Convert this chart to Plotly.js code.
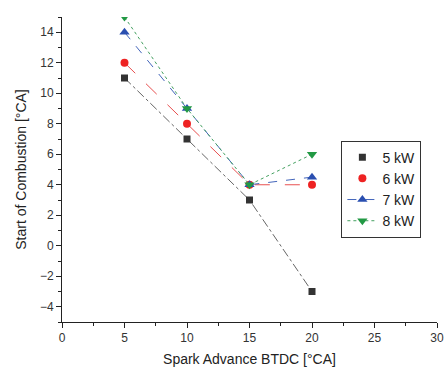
<!DOCTYPE html>
<html><head><meta charset="utf-8">
<script src="https://cdn.plot.ly/plotly-3.0.1.min.js"></script>
<style>html,body{margin:0;padding:0;background:#fff}#c{width:446px;height:371px}</style>
</head><body><div id="c"></div>
<script>
const sparkAdvance = [5, 10, 15, 20];
const kw5 = [11, 7, 3, -3];
const kw6 = [12, 8, 4, 4];
const kw7 = [14, 9, 4, 4.5];
const kw8 = [15, 9, 4, 6];
const seriesNames = ['5 kW', '6 kW', '7 kW', '8 kW'];

const traces = [
  {x: sparkAdvance, y: kw5, mode: 'lines', showlegend: false, hoverinfo: 'skip',
   line: {color: '#666666', width: 1, dash: 'dashdot'}},
  {x: sparkAdvance, y: kw6, mode: 'lines', showlegend: false, hoverinfo: 'skip',
   line: {color: '#e85050', width: 1, dash: 'longdash'}},
  {x: sparkAdvance, y: kw5, name: seriesNames[0], mode: 'markers',
   marker: {symbol: 'square', size: 7, color: '#333333'}},
  {x: sparkAdvance, y: kw6, name: seriesNames[1], mode: 'markers',
   marker: {symbol: 'circle', size: 8, color: '#ee2222'}},
  {x: sparkAdvance, y: kw7, name: seriesNames[2], mode: 'lines+markers',
   line: {color: '#4466bb', width: 1, dash: 'dash'},
   marker: {symbol: 'triangle-up', size: 9, color: '#2a4fb0'}},
  {x: sparkAdvance, y: kw8, name: seriesNames[3], mode: 'lines+markers',
   line: {color: '#44a060', width: 1, dash: 'dot'},
   marker: {symbol: 'triangle-down', size: 9, color: '#229944'}}
];

const layout = {
  width: 446, height: 371,
  margin: {l: 62, r: 9, t: 17, b: 49},
  paper_bgcolor: '#fff', plot_bgcolor: '#fff',
  font: {family: 'Liberation Sans, Arial, sans-serif', color: '#222'},
  showlegend: true,
  legend: {x: 0.745, y: 0.595, xanchor: 'left', yanchor: 'top',
    bordercolor: '#333', borderwidth: 1, bgcolor: '#fff',
    font: {size: 14, color: '#222'}, tracegroupgap: 0},
  xaxis: {range: [0, 30], tickvals: [0, 5, 10, 15, 20, 25, 30],
    showgrid: false, zeroline: false, showline: true, linecolor: '#222', linewidth: 1,
    ticks: 'outside', ticklen: 5, tickcolor: '#222', ticklabeloverflow: 'allow',
    minor: {dtick: 2.5, ticks: 'outside', ticklen: 3, tickcolor: '#222'},
    tickfont: {size: 12, color: '#333'},
    title: {text: 'Spark Advance BTDC [°CA]', font: {size: 14, color: '#222'}, standoff: 9}},
  yaxis: {range: [-5, 15], tickvals: [-4, -2, 0, 2, 4, 6, 8, 10, 12, 14],
    showgrid: false, zeroline: false, showline: true, linecolor: '#222', linewidth: 1,
    ticks: 'outside', ticklen: 5, tickcolor: '#222',
    minor: {dtick: 1, ticks: 'outside', ticklen: 3, tickcolor: '#222'},
    tickfont: {size: 12, color: '#333'},
    title: {text: 'Start of Combustion [°CA]', font: {size: 14, color: '#222'}, standoff: 10}}
};

Plotly.newPlot('c', traces, layout, {staticPlot: true, displayModeBar: false});
</script>
</body></html>
